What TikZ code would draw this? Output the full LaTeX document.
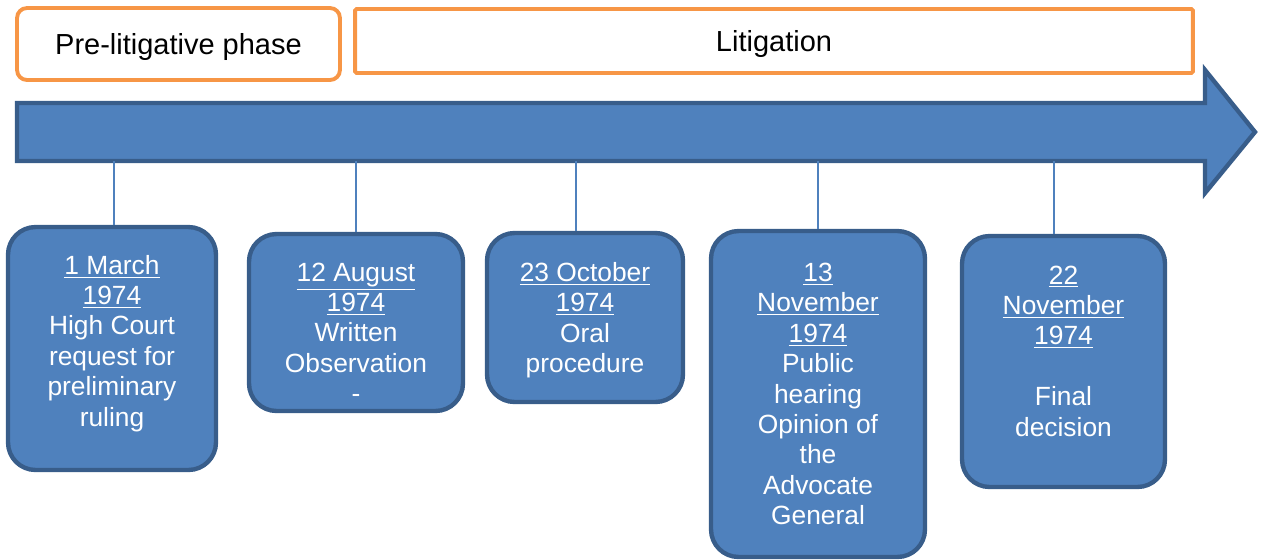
\documentclass[tikz,border=0pt]{standalone}
\usepackage{fontspec}
\setmainfont{Liberation Sans}
\usepackage{tikz}
\definecolor{evblue}{HTML}{4F81BD}
\definecolor{evedge}{HTML}{385D8A}
\definecolor{phaseorange}{HTML}{F79646}
\tikzset{
  event/.style={draw=evedge, fill=evblue, line width=2.5pt, rounded corners=0.55cm,
    text=white, align=center, inner sep=0pt, font=\fontsize{15}{17.3}\selectfont},
  phase/.style={draw=phaseorange, line width=2.2pt, text height=15.5pt, text depth=3.6pt,
    font=\fontsize{16.5}{19}\selectfont},
  tick/.style={draw=evblue, line width=0.8pt}
}

\begin{document}
\begin{tikzpicture}[x=0.02cm, y=-0.02cm]
\useasboundingbox (0,0) rectangle (1261,559);
\node[phase, rounded corners=0.2cm, minimum width=6.46cm, minimum height=1.44cm] (pre) at (178.5,44) {Pre-litigative phase};
\node[phase, rounded corners=0.03cm, minimum width=16.76cm, minimum height=1.28cm] (lit) at (774,41) {Litigation};
\draw[draw=evedge, fill=evblue, line width=2.5pt] (17,103) -- (1205,103) -- (1205,70) -- (1255,132)
  -- (1205,193) -- (1205,161) -- (17,161) -- cycle;
\coordinate (t1) at (114,161);
\coordinate (t2) at (356,161);
\coordinate (t3) at (576,161);
\coordinate (t4) at (818,161);
\coordinate (t5) at (1054,161);
\node[event, minimum width=4.16cm, minimum height=4.86cm] (d1) at (112,348.5)
  {\underline{1 March}\\ \underline{1974}\\ High Court\\ request for\\ preliminary\\ ruling\rule[-9pt]{0pt}{0pt}};
\node[event, minimum width=4.28cm, minimum height=3.54cm] (d2) at (356,322.5)
  {\rule{0pt}{22pt}\underline{12 August}\\ \underline{1974}\\ Written\\ Observation\\ -};
\node[event, minimum width=3.92cm, minimum height=3.38cm] (d3) at (585,317.5)
  {\rule{0pt}{14pt}\underline{23 October}\\ \underline{1974}\\ Oral\\ procedure};
\node[event, minimum width=4.28cm, minimum height=6.52cm] (d4) at (818,394)
  {\underline{13}\\ \underline{November}\\ \underline{1974}\\ Public\\ hearing\\ Opinion of\\ the\\ Advocate\\ General};
\node[event, minimum width=4.06cm, minimum height=5.02cm] (d5) at (1063.5,361.5)
  {\underline{22}\\ \underline{November}\\ \underline{1974}\\[17.3pt] Final\\ decision\rule[-12pt]{0pt}{0pt}};
\draw[tick] (t1) -- (t1 |- d1.north);
\draw[tick] (t2) -- (t2 |- d2.north);
\draw[tick] (t3) -- (t3 |- d3.north);
\draw[tick] (t4) -- (t4 |- d4.north);
\draw[tick] (t5) -- (t5 |- d5.north);
\end{tikzpicture}
\end{document}
